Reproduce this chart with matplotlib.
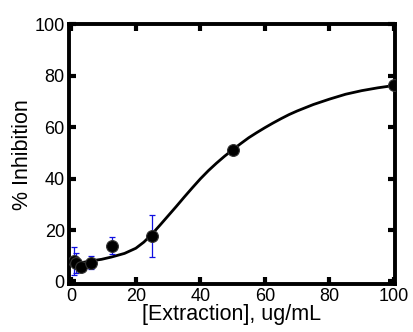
import matplotlib
matplotlib.use('Agg')
import matplotlib.pyplot as plt

# Datos medidos
conc = [0.78, 1.56, 3.125, 6.25, 12.5, 25, 50, 100]
inhib = [8.0, 7.2, 5.8, 7.3, 13.9, 17.8, 51.2, 76.2]
err = [5.5, 4.0, 1.5, 2.5, 3.3, 8.2, 0.8, 0.0]

# Curva ajustada
fit_x = [0.78, 1.56, 3.125, 6.25, 9.4, 12.5, 16.5, 20, 22.5, 25, 27.5, 30, 32.5, 35,
         37.5, 40, 42.5, 45, 47.5, 50, 52.5, 55, 57.5, 60, 62.5, 65, 67.5, 70, 75,
         80, 85, 90, 95, 100]
fit_y = [6.4, 6.8, 7.3, 8.0, 8.6, 9.5, 10.9, 12.9, 15.3, 18.4, 21.9, 25.5, 29.1, 32.8,
         36.4, 39.9, 43.1, 46.0, 48.7, 51.2, 53.6, 55.9, 57.9, 59.8, 61.6, 63.3, 64.9,
         66.3, 68.8, 70.9, 72.8, 74.2, 75.3, 76.2]

plt.rcParams['font.family'] = ['Liberation Sans', 'DejaVu Sans']

fig = plt.figure(figsize=(4.14, 3.32), dpi=100)
ax = fig.add_axes([69 / 414, 1 - 284 / 332, 326 / 414, (284 - 24.3) / 332])

ax.plot(fit_x, fit_y, color='black', lw=2.0, zorder=2)
ax.errorbar(conc, inhib, yerr=err, fmt='none', ecolor='#1010e0', elinewidth=0.9,
            capsize=2.5, capthick=0.9, zorder=3)
ax.plot(conc, inhib, 'o', color='black', markersize=8.5, markeredgecolor='#333333',
        markeredgewidth=0.8, zorder=4)

ax.set_xlim(-0.7, 100.3)
ax.set_ylim(-1, 100)
ax.set_xticks([0, 20, 40, 60, 80, 100])
ax.set_yticks([0, 20, 40, 60, 80, 100])
ax.tick_params(direction='in', length=5, width=3, labelsize=13, top=True, right=True, pad=3)
for s in ax.spines.values():
    s.set_linewidth(2.8)

ax.set_xlabel('[Extraction], ug/mL', fontsize=15.5, labelpad=-1)
ax.set_ylabel('% Inhibition', fontsize=15.5, labelpad=1)

plt.savefig('out.png', dpi=100)
